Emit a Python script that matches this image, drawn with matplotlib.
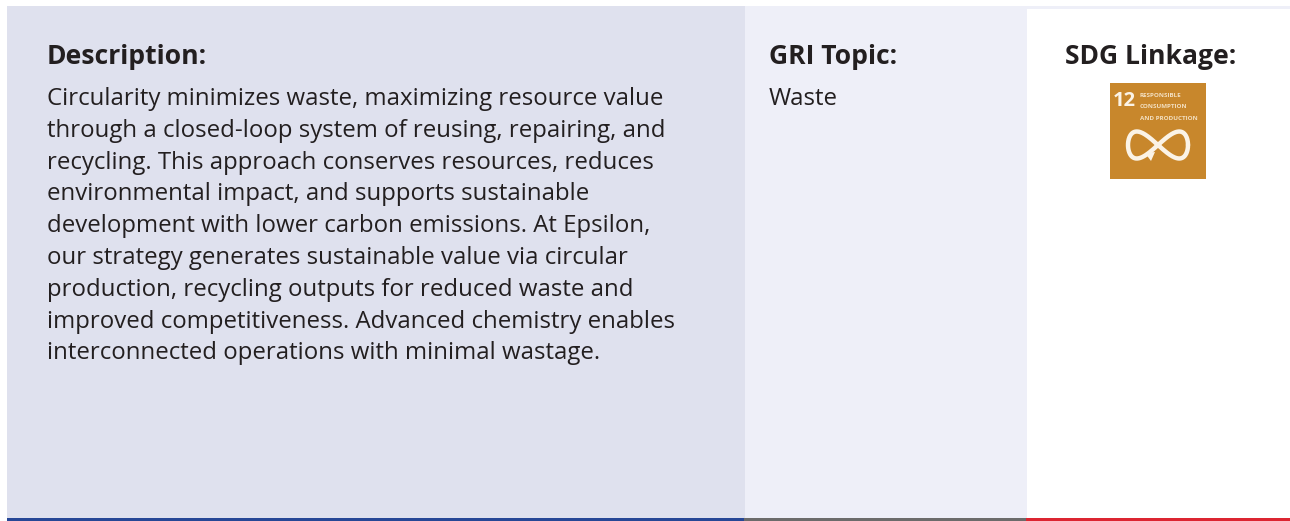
import numpy as np
import matplotlib
matplotlib.use('Agg')
import matplotlib.pyplot as plt
from matplotlib.patches import Rectangle, Polygon

W, H = 1290, 521

headings = ['Description:', 'GRI Topic:', 'SDG Linkage:']
body_lines = [
    'Circularity minimizes waste, maximizing resource value',
    'through a closed-loop system of reusing, repairing, and',
    'recycling. This approach conserves resources, reduces',
    'environmental impact, and supports sustainable',
    'development with lower carbon emissions. At Epsilon,',
    'our strategy generates sustainable value via circular',
    'production, recycling outputs for reduced waste and',
    'improved competitiveness. Advanced chemistry enables',
    'interconnected operations with minimal wastage.',
]
topic = 'Waste'
sdg_number = '12'
sdg_label = ['RESPONSIBLE', 'CONSUMPTION', 'AND PRODUCTION']

plt.rcParams['font.family'] = ['Open Sans', 'DejaVu Sans']
TEXT = '#231f20'

fig = plt.figure(figsize=(W / 100, H / 100), dpi=100, facecolor='white')
ax = fig.add_axes([0, 0, 1, 1])
ax.set_xlim(0, W)
ax.set_ylim(H, 0)
ax.axis('off')

# panels
ax.add_patch(Rectangle((7, 6), 738, 512, fc='#dfe1ee', ec='none'))
ax.add_patch(Rectangle((745, 6), 282, 512, fc='#eeeff8', ec='none'))
ax.add_patch(Rectangle((1027, 6), 263, 3, fc='#eeeff8', ec='none'))

# bottom rules
ax.add_patch(Rectangle((7, 518), 737, 3, fc='#264796', ec='none'))
ax.add_patch(Rectangle((744, 518), 282, 3, fc='#6b6b6b', ec='none'))
ax.add_patch(Rectangle((1026, 518), 264, 3, fc='#dc2531', ec='none'))

# headings
for x, s in zip([47, 769, 1065], headings):
    ax.text(x, 64.5, s, fontsize=19.1, fontweight='bold', color=TEXT, ha='left', va='baseline')

# body
for i, line in enumerate(body_lines):
    ax.text(47, 105 + i * 31.8, line, fontsize=17.3, color=TEXT, ha='left', va='baseline')
ax.text(769, 105, topic, fontsize=17.3, color=TEXT, ha='left', va='baseline')

# SDG 12 icon
OCHRE = '#c8872c'
ax.add_patch(Rectangle((1110, 83), 96, 96, fc=OCHRE, ec='none'))
ax.text(1124, 106, sdg_number, fontsize=14.5, fontweight='bold', color='#fbf3e6',
        ha='center', va='baseline')
for i, s in enumerate(sdg_label):
    ax.text(1140, 97 + i * 11.5, s, fontsize=4.5, fontweight='bold', color='#f3dfc0', ha='left', va='baseline')

t = np.linspace(0, 2 * np.pi, 300)
cx, cy = 1158, 145
ax.plot(cx + 30 * np.cos(t), cy + 13.5 * np.sin(2 * t),
        color='#fbf3e6', lw=3.2, solid_capstyle='round')
ax.add_patch(Polygon([[1145, 153], [1155, 152], [1151, 161]], fc='#fbf3e6', ec='none'))

fig.savefig('out.png', dpi=100, facecolor='white')
